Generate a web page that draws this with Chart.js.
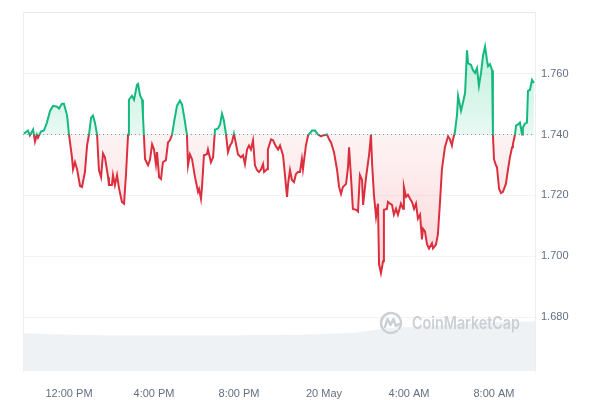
<!DOCTYPE html>
<html>
<head>
<meta charset="utf-8">
<script src="https://cdn.jsdelivr.net/npm/chart.js@4.4.1/dist/chart.umd.min.js"></script>
<style>
  html, body { margin: 0; padding: 0; background: #fff; }
  #wrap { width: 600px; height: 400px; }
</style>
</head>
<body>
<div id="wrap"><canvas id="chart"></canvas></div>
<script>
// hours since 19 May 00:00 (24 = 20 May midnight)
const hours = [
  9.88, 10.07, 10.16, 10.31, 10.40, 10.49, 10.54, 10.68, 10.82, 10.96,
  11.11, 11.25, 11.44, 11.53, 11.67, 11.76, 11.91, 12.00, 12.14, 12.19,
  12.28, 12.38, 12.52, 12.61, 12.75, 12.85, 12.94, 13.04, 13.13, 13.22,
  13.32, 13.41, 13.51, 13.60, 13.69, 13.84, 13.88, 14.02, 14.07, 14.16,
  14.26, 14.35, 14.49, 14.59, 14.68, 14.78, 14.82, 14.96, 15.06, 15.20,
  15.25, 15.34, 15.44, 15.48, 15.58, 15.72, 15.81, 15.91, 16.00, 16.09,
  16.14, 16.24, 16.33, 16.42, 16.56, 16.66, 16.75, 16.85, 16.94, 17.08,
  17.22, 17.32, 17.41, 17.55, 17.60, 17.69, 17.79, 17.93, 18.07, 18.12,
  18.21, 18.26, 18.35, 18.49, 18.54, 18.68, 18.78, 18.87, 19.01, 19.11,
  19.20, 19.29, 19.39, 19.48, 19.58, 19.67, 19.76, 19.86, 19.95, 20.09,
  20.19, 20.28, 20.38, 20.47, 20.56, 20.66, 20.75, 20.85, 20.94, 21.04,
  21.13, 21.18, 21.32, 21.36, 21.51, 21.60, 21.74, 21.84, 21.93, 22.07,
  22.12, 22.26, 22.31, 22.40, 22.49, 22.59, 22.68, 22.78, 22.87, 22.96,
  23.01, 23.15, 23.25, 23.44, 23.58, 23.72, 23.86, 23.95, 24.14, 24.24,
  24.33, 24.47, 24.61, 24.71, 24.80, 24.89, 25.04, 25.13, 25.18, 25.27,
  25.36, 25.51, 25.60, 25.69, 25.79, 25.84, 25.98, 26.02, 26.12, 26.21,
  26.26, 26.35, 26.45, 26.54, 26.59, 26.68, 26.78, 26.82, 26.96, 27.01,
  27.11, 27.20, 27.29, 27.39, 27.48, 27.62, 27.72, 27.76, 27.86, 27.95,
  28.05, 28.14, 28.24, 28.33, 28.42, 28.52, 28.61, 28.66, 28.75, 28.85,
  28.94, 29.08, 29.13, 29.27, 29.36, 29.46, 29.55, 29.69, 29.84, 29.93,
  30.02, 30.07, 30.16, 30.26, 30.31, 30.45, 30.54, 30.64, 30.73, 30.78,
  30.92, 31.01, 31.11, 31.20, 31.29, 31.39, 31.48, 31.58, 31.67, 31.72,
  31.81, 31.91, 31.95, 32.00, 32.09, 32.14, 32.24, 32.33, 32.42, 32.56,
  32.66, 32.75, 32.85, 32.89, 32.99, 33.04, 33.13, 33.22, 33.32, 33.36,
  33.46, 33.55, 33.60, 33.69, 33.79, 33.88
];
const prices = [
  1.7403, 1.7413, 1.7397, 1.7416, 1.7377, 1.7400, 1.7390, 1.7410, 1.7413, 1.7439,
  1.7478, 1.7494, 1.7491, 1.7485, 1.7501, 1.7501, 1.7462, 1.7400, 1.7325, 1.7286,
  1.7309, 1.7286, 1.7231, 1.7228, 1.7277, 1.7364, 1.7400, 1.7455, 1.7462, 1.7439,
  1.7400, 1.7283, 1.7260, 1.7338, 1.7325, 1.7260, 1.7234, 1.7234, 1.7267, 1.7234,
  1.7267, 1.7225, 1.7179, 1.7173, 1.7267, 1.7400, 1.7514, 1.7527, 1.7514, 1.7563,
  1.7566, 1.7530, 1.7514, 1.7462, 1.7319, 1.7299, 1.7316, 1.7368, 1.7351, 1.7303,
  1.7342, 1.7260, 1.7254, 1.7309, 1.7316, 1.7374, 1.7381, 1.7400, 1.7439, 1.7494,
  1.7511, 1.7498, 1.7462, 1.7400, 1.7299, 1.7335, 1.7319, 1.7260, 1.7212, 1.7221,
  1.7189, 1.7228, 1.7332, 1.7335, 1.7351, 1.7309, 1.7325, 1.7416, 1.7420, 1.7433,
  1.7468, 1.7446, 1.7400, 1.7342, 1.7364, 1.7374, 1.7403, 1.7368, 1.7335, 1.7325,
  1.7332, 1.7303, 1.7351, 1.7364, 1.7351, 1.7381, 1.7299, 1.7283, 1.7277, 1.7286,
  1.7303, 1.7277, 1.7286, 1.7351, 1.7384, 1.7381, 1.7361, 1.7351, 1.7364, 1.7332,
  1.7299, 1.7195, 1.7238, 1.7283, 1.7251, 1.7244, 1.7270, 1.7277, 1.7277, 1.7319,
  1.7286, 1.7364, 1.7397, 1.7413, 1.7413, 1.7400, 1.7394, 1.7397, 1.7400, 1.7384,
  1.7374, 1.7342, 1.7286, 1.7228, 1.7205, 1.7228, 1.7238, 1.7293, 1.7358, 1.7260,
  1.7156, 1.7153, 1.7147, 1.7267, 1.7251, 1.7169, 1.7260, 1.7260, 1.7332, 1.7400,
  1.7309, 1.7202, 1.7130, 1.7173, 1.6974, 1.6945, 1.6984, 1.7153, 1.7156, 1.7179,
  1.7173, 1.7169, 1.7137, 1.7156, 1.7137, 1.7173, 1.7156, 1.7228, 1.7195, 1.7202,
  1.7189, 1.7179, 1.7156, 1.7173, 1.7124, 1.7137, 1.7056, 1.7091, 1.7082, 1.7039,
  1.7026, 1.7043, 1.7026, 1.7039, 1.7072, 1.7179, 1.7286, 1.7358, 1.7394, 1.7384,
  1.7364, 1.7384, 1.7407, 1.7465, 1.7527, 1.7478, 1.7504, 1.7537, 1.7676, 1.7634,
  1.7628, 1.7611, 1.7602, 1.7618, 1.7559, 1.7602, 1.7657, 1.7689, 1.7644, 1.7624,
  1.7631, 1.7611, 1.7400, 1.7319, 1.7299, 1.7293, 1.7221, 1.7208, 1.7212, 1.7238,
  1.7286, 1.7325, 1.7358, 1.7368, 1.7400, 1.7429, 1.7433, 1.7439, 1.7400, 1.7423,
  1.7436, 1.7439, 1.7543, 1.7546, 1.7579, 1.7569
];
const baseline = 1.740;

// volume (relative units) under the price
const volHours = [9.84, 11.58, 14.40, 18.16, 22.87, 25.36, 26.96, 28.52, 30.07, 31.81, 33.93];
const volumes = [10.5, 10.2, 9.9, 9.9, 10.1, 10.6, 11.9, 12.4, 13.0, 13.5, 13.9];

const tickHours = [12, 16, 20, 24, 28, 32];
const tickLabels = ['12:00 PM', '4:00 PM', '8:00 PM', '20 May', '4:00 AM', '8:00 AM'];
const priceTicks = [1.68, 1.70, 1.72, 1.74, 1.76, 1.78];

const xMin = 9.835, xMax = 33.93;
const GREEN = '#15b97f';
const RED = '#dc2f3e';

function splitGradient(chart, stops) {
  const { ctx, chartArea, scales } = chart;
  if (!chartArea) return null;
  const g = ctx.createLinearGradient(0, chartArea.top, 0, chartArea.bottom);
  let f = (scales.y.getPixelForValue(baseline) - chartArea.top) / (chartArea.bottom - chartArea.top);
  f = Math.min(1, Math.max(0, f));
  g.addColorStop(0, stops[0]);
  g.addColorStop(f, stops[1]);
  g.addColorStop(f, stops[2]);
  g.addColorStop(1, stops[3]);
  return g;
}

const watermark = {
  id: 'watermark',
  afterDatasetsDraw(chart) {
    const ctx = chart.ctx;
    const cx = 391, cy = 323;
    ctx.save();
    ctx.strokeStyle = '#cbcfd6';
    ctx.lineWidth = 2.5;
    ctx.lineJoin = 'round';
    ctx.lineCap = 'round';
    ctx.beginPath();
    ctx.arc(cx, cy, 10, 0.3 * Math.PI, 2.2 * Math.PI);
    ctx.stroke();
    ctx.beginPath();
    ctx.moveTo(cx - 6, cy + 4);
    ctx.lineTo(cx - 3.5, cy - 4);
    ctx.lineTo(cx - 0.5, cy + 2);
    ctx.lineTo(cx + 2.5, cy - 4);
    ctx.lineTo(cx + 5, cy + 3);
    ctx.lineTo(cx + 8, cy + 1);
    ctx.stroke();
    ctx.fillStyle = '#cbcfd6';
    ctx.font = '600 17px Inter, sans-serif';
    ctx.textBaseline = 'middle';
    ctx.fillText('CoinMarketCap', 412, cy + 1, 108);
    ctx.restore();
  }
};

const axisFont = { family: '"Liberation Sans", Arial, sans-serif', size: 11 };

new Chart(document.getElementById('chart'), {
  type: 'line',
  plugins: [watermark],
  data: {
    datasets: [
      {
        label: 'Price',
        data: hours.map((h, i) => ({ x: h, y: prices[i] })),
        borderWidth: 2,
        pointRadius: 0,
        tension: 0,
        borderColor: (c) => splitGradient(c.chart, [GREEN, GREEN, RED, RED]) || RED,
        backgroundColor: (c) => splitGradient(c.chart, [
          'rgba(22,199,132,0.32)', 'rgba(22,199,132,0.10)',
          'rgba(234,57,67,0.06)', 'rgba(234,57,67,0.30)'
        ]) || 'transparent',
        fill: { target: { value: baseline } },
        yAxisID: 'y'
      },
      {
        label: 'Open',
        data: [{ x: xMin, y: baseline }, { x: xMax, y: baseline }],
        borderColor: '#8e959f',
        borderWidth: 1,
        borderDash: [1, 3],
        pointRadius: 0,
        fill: false,
        yAxisID: 'y'
      },
      {
        label: 'Volume',
        data: volHours.map((h, i) => ({ x: h, y: volumes[i] })),
        borderWidth: 0,
        pointRadius: 0,
        backgroundColor: '#eff2f5',
        fill: 'origin',
        yAxisID: 'vol'
      }
    ]
  },
  options: {
    responsive: true,
    maintainAspectRatio: false,
    animation: false,
    layout: { padding: { top: 9, left: 23, right: 0, bottom: 0 } },
    plugins: {
      legend: { display: false },
      tooltip: { enabled: false }
    },
    scales: {
      x: {
        type: 'linear',
        min: xMin,
        max: xMax,
        afterBuildTicks: (scale) => { scale.ticks = tickHours.map(v => ({ value: v })); },
        afterFit: (scale) => { scale.height = 29; },
        ticks: {
          callback: (v) => tickLabels[tickHours.indexOf(v)],
          autoSkip: false,
          maxRotation: 0,
          padding: 16,
          color: '#646f82',
          font: axisFont
        },
        grid: { display: false, drawTicks: false },
        border: { display: false }
      },
      y: {
        position: 'right',
        min: 1.6624,
        max: 1.78,
        afterBuildTicks: (scale) => { scale.ticks = priceTicks.map(v => ({ value: v })); },
        afterFit: (scale) => { scale.width = 65; },
        ticks: {
          callback: (v) => v >= 1.779 ? '' : v.toFixed(3),
          padding: 6,
          color: '#646f82',
          font: axisFont
        },
        grid: {
          drawTicks: false,
          color: (c) => c.tick && c.tick.value >= 1.779 ? '#e7e9ec' : '#f2f3f5'
        },
        border: { display: true, color: '#eceef1' }
      },
      vol: {
        position: 'left',
        min: 0,
        max: 100,
        afterFit: (scale) => { scale.width = 0; },
        ticks: { display: false },
        grid: { display: false, drawTicks: false },
        border: { display: true, color: '#eceef1' }
      }
    }
  }
});
</script>
</body>
</html>
